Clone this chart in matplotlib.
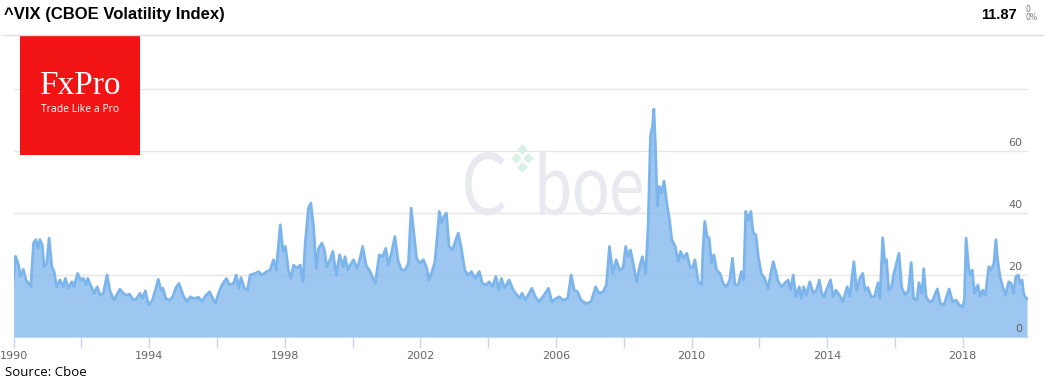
import matplotlib
matplotlib.use("Agg")
import matplotlib.pyplot as plt
import matplotlib.transforms as mtrans
from matplotlib.patches import Rectangle, PathPatch
from matplotlib.textpath import TextPath
from matplotlib.font_manager import FontProperties
from matplotlib.transforms import blended_transform_factory

# VIX readings (decimal year, index level)
dates = [
    1990.00, 1990.06, 1990.15, 1990.20, 1990.29, 1990.37, 1990.51, 1990.59, 1990.66, 1990.72,
    1990.78, 1990.85, 1990.90, 1990.98, 1991.05, 1991.13, 1991.20, 1991.27, 1991.37, 1991.47,
    1991.53, 1991.62, 1991.72, 1991.78, 1991.89, 1991.98, 1992.06, 1992.14, 1992.19, 1992.27,
    1992.38, 1992.47, 1992.55, 1992.65, 1992.76, 1992.84, 1992.96, 1993.04, 1993.14, 1993.24,
    1993.33, 1993.43, 1993.53, 1993.63, 1993.73, 1993.80, 1993.89, 1993.98, 1994.10, 1994.20,
    1994.27, 1994.35, 1994.41, 1994.49, 1994.61, 1994.70, 1994.78, 1994.88, 1995.02, 1995.12,
    1995.22, 1995.31, 1995.46, 1995.56, 1995.66, 1995.78, 1995.88, 1995.96, 1996.05, 1996.15,
    1996.28, 1996.37, 1996.49, 1996.57, 1996.64, 1996.71, 1996.81, 1996.90, 1996.98, 1997.13,
    1997.23, 1997.33, 1997.47, 1997.57, 1997.67, 1997.75, 1997.87, 1997.95, 1998.02, 1998.11,
    1998.18, 1998.26, 1998.36, 1998.46, 1998.54, 1998.61, 1998.70, 1998.77, 1998.85, 1998.93,
    1999.00, 1999.10, 1999.17, 1999.24, 1999.34, 1999.42, 1999.52, 1999.62, 1999.72, 1999.78,
    1999.86, 1999.93, 2000.03, 2000.13, 2000.20, 2000.30, 2000.40, 2000.52, 2000.67, 2000.79,
    2000.89, 2000.98, 2001.06, 2001.16, 2001.25, 2001.35, 2001.45, 2001.55, 2001.65, 2001.73,
    2001.80, 2001.89, 2001.99, 2002.09, 2002.19, 2002.26, 2002.36, 2002.43, 2002.50, 2002.56,
    2002.63, 2002.70, 2002.77, 2002.85, 2002.95, 2003.05, 2003.12, 2003.21, 2003.31, 2003.41,
    2003.51, 2003.61, 2003.74, 2003.83, 2003.95, 2004.03, 2004.13, 2004.23, 2004.32, 2004.39,
    2004.49, 2004.62, 2004.74, 2004.81, 2004.93, 2005.00, 2005.10, 2005.29, 2005.39, 2005.50,
    2005.65, 2005.78, 2005.88, 2006.00, 2006.10, 2006.20, 2006.35, 2006.45, 2006.54, 2006.64,
    2006.74, 2006.89, 2007.04, 2007.17, 2007.27, 2007.39, 2007.49, 2007.58, 2007.68, 2007.78,
    2007.88, 2007.98, 2008.06, 2008.13, 2008.20, 2008.30, 2008.38, 2008.48, 2008.55, 2008.65,
    2008.72, 2008.79, 2008.85, 2008.89, 2008.94, 2008.99, 2009.05, 2009.12, 2009.19, 2009.27,
    2009.35, 2009.42, 2009.52, 2009.61, 2009.68, 2009.76, 2009.86, 2009.96, 2010.03, 2010.10,
    2010.20, 2010.30, 2010.34, 2010.39, 2010.46, 2010.52, 2010.59, 2010.66, 2010.74, 2010.84,
    2010.93, 2011.03, 2011.13, 2011.21, 2011.28, 2011.38, 2011.47, 2011.54, 2011.60, 2011.67,
    2011.75, 2011.82, 2011.90, 2011.97, 2012.06, 2012.16, 2012.26, 2012.33, 2012.41, 2012.49,
    2012.56, 2012.66, 2012.75, 2012.85, 2012.92, 2013.00, 2013.08, 2013.18, 2013.24, 2013.31,
    2013.39, 2013.49, 2013.59, 2013.69, 2013.77, 2013.84, 2013.90, 2013.98, 2014.10, 2014.18,
    2014.26, 2014.36, 2014.47, 2014.59, 2014.67, 2014.79, 2014.87, 2014.97, 2015.05, 2015.12,
    2015.20, 2015.30, 2015.40, 2015.50, 2015.56, 2015.64, 2015.70, 2015.75, 2015.82, 2015.90,
    2015.96, 2016.05, 2016.12, 2016.20, 2016.30, 2016.40, 2016.48, 2016.55, 2016.65, 2016.71,
    2016.80, 2016.85, 2016.92, 2017.00, 2017.10, 2017.25, 2017.35, 2017.45, 2017.60, 2017.70,
    2017.80, 2017.90, 2018.00, 2018.05, 2018.10, 2018.18, 2018.23, 2018.28, 2018.35, 2018.45,
    2018.51, 2018.59, 2018.67, 2018.77, 2018.84, 2018.92, 2018.98, 2019.03, 2019.10, 2019.18,
    2019.26, 2019.36, 2019.43, 2019.50, 2019.57, 2019.64, 2019.69, 2019.75, 2019.79, 2019.83,
    2019.90,
]
vix = [
    18.4, 26.0, 23.2, 19.5, 21.8, 18.4, 16.2, 30.3, 31.4, 28.6,
    31.4, 29.7, 22.7, 23.8, 31.9, 22.7, 21.0, 16.2, 18.4, 16.2,
    18.9, 15.7, 17.8, 16.2, 20.5, 18.4, 18.9, 16.8, 18.9, 16.8,
    14.1, 16.2, 13.5, 14.1, 20.0, 15.1, 11.9, 13.5, 15.4, 14.1,
    13.5, 13.8, 11.9, 12.4, 14.1, 12.4, 14.9, 10.3, 11.9, 15.7,
    18.6, 15.1, 15.7, 12.4, 11.9, 13.0, 15.7, 17.3, 13.0, 11.4,
    13.0, 12.4, 12.8, 11.4, 13.2, 14.6, 12.4, 11.0, 14.1, 16.8,
    18.9, 16.8, 17.3, 20.0, 15.7, 19.2, 15.7, 15.1, 20.0, 20.5,
    21.1, 20.0, 21.1, 21.6, 24.9, 21.6, 36.2, 27.6, 29.2, 21.6,
    18.9, 23.2, 22.2, 23.2, 17.8, 30.8, 41.6, 43.2, 35.7, 22.2,
    28.6, 30.3, 28.1, 22.7, 24.9, 27.6, 20.0, 26.5, 22.7, 25.9,
    21.6, 23.2, 24.9, 22.2, 24.3, 29.2, 23.2, 21.1, 17.3, 26.5,
    25.9, 28.6, 23.2, 27.6, 32.4, 24.3, 21.6, 21.6, 23.8, 41.6,
    34.6, 25.4, 23.8, 24.9, 22.2, 18.4, 21.6, 24.3, 32.4, 40.5,
    36.8, 38.9, 40.0, 29.2, 28.1, 31.4, 33.5, 28.6, 21.6, 20.0,
    21.1, 18.9, 21.1, 17.3, 16.8, 17.8, 16.2, 19.5, 15.1, 18.9,
    15.7, 18.4, 15.1, 14.1, 12.5, 14.1, 11.9, 15.7, 13.0, 11.4,
    13.5, 15.7, 11.4, 12.4, 13.0, 11.9, 12.4, 20.0, 15.1, 14.6,
    11.9, 10.8, 11.4, 16.2, 14.1, 14.6, 16.8, 29.2, 20.5, 24.9,
    21.6, 22.2, 29.2, 25.9, 28.1, 22.7, 17.8, 23.2, 25.9, 20.5,
    35.7, 64.9, 68.1, 73.5, 60.5, 42.2, 48.6, 46.5, 50.3, 43.2,
    37.8, 31.4, 29.2, 24.3, 27.6, 25.4, 27.0, 22.4, 22.2, 24.9,
    17.8, 16.8, 28.6, 37.3, 32.4, 31.9, 23.8, 26.5, 21.6, 20.5,
    17.3, 16.2, 18.4, 25.4, 16.8, 16.8, 21.1, 18.4, 40.5, 37.8,
    40.5, 33.5, 33.0, 25.9, 20.5, 18.9, 15.7, 20.0, 24.3, 21.1,
    17.8, 16.2, 17.3, 18.4, 15.1, 20.0, 13.0, 16.2, 12.4, 16.2,
    13.5, 17.8, 14.1, 15.1, 18.4, 14.1, 13.0, 15.1, 18.4, 13.0,
    15.1, 13.5, 11.4, 16.2, 13.0, 24.3, 15.1, 19.0, 20.5, 15.0,
    16.0, 13.0, 13.0, 17.5, 12.5, 32.0, 24.0, 25.0, 15.0, 16.0,
    20.0, 24.0, 27.0, 16.0, 13.5, 15.0, 24.0, 12.5, 12.0, 17.5,
    14.0, 22.0, 13.0, 11.5, 11.5, 15.5, 10.5, 10.5, 15.5, 11.4,
    11.9, 10.3, 9.7, 11.9, 31.9, 21.6, 20.0, 21.6, 14.1, 16.8,
    13.0, 15.1, 13.5, 22.7, 21.6, 23.8, 31.4, 24.9, 19.5, 16.2,
    13.5, 17.8, 17.3, 14.1, 19.5, 20.0, 17.3, 18.4, 14.6, 13.0,
    12.4,
]
year_ticks = list(range(1990, 2020, 2))
year_labels = [str(y) if (y - 1990) % 4 == 0 else "" for y in year_ticks]
value_ticks = [0, 20, 40, 60]
grid_levels = [20, 40, 60, 80]

W, H = 1044, 391
fig = plt.figure(figsize=(W / 100, H / 100), dpi=100)

def px(x0, y0, x1, y1):
    # pixel box (top-left origin) -> figure fraction rect
    return [x0 / W, 1 - y1 / H, (x1 - x0) / W, (y1 - y0) / H]

ax = fig.add_axes(px(13.5, 35, 1028, 337))

for g in grid_levels:
    ax.axhline(g, color="#e6e6e6", lw=1, zorder=0)

# Cboe watermark, drawn as squeezed glyph outlines in pixel space
wm_font = FontProperties(family="Lato")
for txt, x0 in [("C", 462), ("boe", 535)]:
    tp = TextPath((0, 0), txt, size=87, prop=wm_font)
    wm = PathPatch(tp, color="#e9eaf0", lw=0, zorder=0.5,
                   transform=mtrans.Affine2D().scale(0.76, 1).translate(x0, H - 215))
    ax.add_patch(wm)
ax.scatter([2005.0, 2004.82, 2005.18, 2005.0], [60.8, 57.8, 57.8, 54.8],
           marker="D", s=30, color="#d9f1e4", lw=0, zorder=0.6)

ax.fill_between(dates, vix, 0, color="#7cb5ec", alpha=0.75, lw=0, zorder=1)
ax.plot(dates, vix, color="#7cb5ec", lw=2, solid_joinstyle="round", zorder=2)

ax.set_xlim(1990, 1990 + (1028 - 13.5) / 33.9)
ax.set_ylim(0, (337 - 35) / 3.1)

for s in ["top", "left", "right"]:
    ax.spines[s].set_visible(False)
ax.spines["bottom"].set_color("#ccd6eb")
ax.set_yticks([])
ax.set_xticks(year_ticks)
ax.set_xticklabels(year_labels)
ax.tick_params(axis="x", length=8, width=1, color="#ccd6eb", labelcolor="#666666",
               labelsize=8, pad=2)

tr = blended_transform_factory(ax.transAxes, ax.transData)
for v in value_ticks:
    ax.annotate(str(v), (1, v), xycoords=tr, xytext=(-4, 2), textcoords="offset points",
                ha="right", va="bottom", fontsize=8, color="#666666")

# header
fig.add_artist(plt.Line2D([3 / W, 1], [1 - 35 / H] * 2, color="#dddddd", lw=1))
fig.text(4 / W, 1 - 15 / H, "^VIX (CBOE Volatility Index)", fontsize=12,
         fontweight="bold", family="Liberation Sans", va="center", ha="left")
fig.text(1017 / W, 1 - 15 / H, "11.87", fontsize=10.5, fontweight="bold",
         family="Liberation Sans", va="center", ha="right")
fig.text(1026 / W, 1 - 9 / H, "0", fontsize=5.5, color="#777777", va="center", ha="left")
fig.text(1026 / W, 1 - 17 / H, "0%", fontsize=5.5, color="#777777", va="center", ha="left")

# FxPro logo block
fig.add_artist(Rectangle((20 / W, 1 - 155 / H), 120 / W, 120 / H,
                         transform=fig.transFigure, color="#f21314", lw=0))
fig.text(80 / W, 1 - 86 / H, "FxPro", fontsize=24, color="white",
         family="Liberation Serif", ha="center", va="center")
fig.text(80 / W, 1 - 110 / H, "Trade Like a Pro", fontsize=7.5, color="white",
         family="Open Sans", ha="center", va="center")

fig.text(5 / W, 1 - 372 / H, "Source: Cboe", fontsize=9.5, family="Open Sans",
         va="center", ha="left")

fig.savefig("out.png", dpi=100)
